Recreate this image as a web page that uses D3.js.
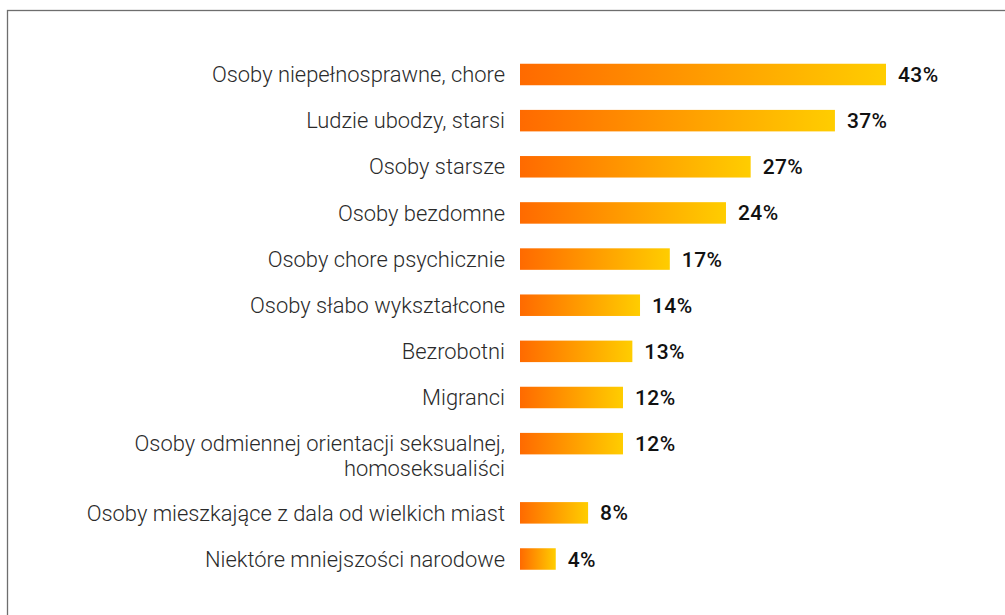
<!DOCTYPE html>
<html>
<head>
<meta charset="utf-8">
<script src="https://cdn.jsdelivr.net/npm/d3@7"></script>
<style>
  html, body { margin: 0; padding: 0; background: #fff; }
  svg { display: block; }
</style>
</head>
<body>
<div id="chart"></div>
<script>
// data
const categories = [
  "Osoby niepełnosprawne, chore",
  "Ludzie ubodzy, starsi",
  "Osoby starsze",
  "Osoby bezdomne",
  "Osoby chore psychicznie",
  "Osoby słabo wykształcone",
  "Bezrobotni",
  "Migranci",
  "Osoby odmiennej orientacji seksualnej,\nhomoseksualiści",
  "Osoby mieszkające z dala od wielkich miast",
  "Niektóre mniejszości narodowe"
];
const values = [43, 37, 27.1, 24.2, 17.6, 14.1, 13.2, 12.1, 12.1, 8, 4.2];
const valueLabels = ["43%", "37%", "27%", "24%", "17%", "14%", "13%", "12%", "12%", "8%", "4%"];

const width = 1005, height = 615;

const svg = d3.select("#chart")
  .append("svg")
  .attr("width", width)
  .attr("height", height);

// frame (only left and top edges are visible)
svg.append("rect")
  .attr("x", 7.5)
  .attr("y", 10.5)
  .attr("width", width + 20)
  .attr("height", height + 20)
  .attr("fill", "none")
  .attr("stroke", "#6e6e6e")
  .attr("stroke-width", 1.3);

// gradient, scaled to each bar
const grad = svg.append("defs").append("linearGradient")
  .attr("id", "barGrad")
  .attr("x1", "0%").attr("x2", "100%")
  .attr("y1", "0%").attr("y2", "0%");
grad.append("stop").attr("offset", "0%").attr("stop-color", "#ff6a00");
grad.append("stop").attr("offset", "100%").attr("stop-color", "#ffcd00");

// rows with a wrapped label take extra room below
const lines = categories.map(c => c.split("\n"));
const extra = [0];
lines.forEach((l, i) => { if (i > 0) extra.push(extra[i - 1] + (lines[i - 1].length - 1) * 0.5); });
const pos = lines.map((l, i) => i + extra[i]);

const x = d3.scaleLinear().domain([0, 43]).range([520, 886]);
const y = d3.scaleLinear().domain([0, pos[pos.length - 1]]).range([74.5, 559]);
const barH = 21.5;

const rows = svg.append("g")
  .selectAll("g")
  .data(categories.map((c, i) => ({ c, v: values[i], lab: valueLabels[i], lines: lines[i], p: pos[i] })))
  .join("g");

rows.append("rect")
  .attr("x", x(0))
  .attr("y", d => y(d.p) - barH / 2)
  .attr("width", d => x(d.v) - x(0))
  .attr("height", barH)
  .attr("fill", "url(#barGrad)");

rows.append("text")
  .attr("x", d => x(d.v) + 12)
  .attr("y", d => y(d.p))
  .attr("dy", "0.36em")
  .style("font", "500 21px Roboto, sans-serif")
  .style("letter-spacing", "0.4px")
  .attr("fill", "#111")
  .text(d => d.lab);

const cat = rows.append("text")
  .attr("text-anchor", "end")
  .style("font", "300 21.9px Roboto, sans-serif")
  .attr("fill", "#2a2a2a");

cat.selectAll("tspan")
  .data(d => d.lines.map((t, j) => ({ t, j, p: d.p })))
  .join("tspan")
  .attr("x", 505)
  .attr("y", d => y(d.p) + d.j * 25)
  .attr("dy", "0.35em")
  .text(d => d.t);
</script>
</body>
</html>
